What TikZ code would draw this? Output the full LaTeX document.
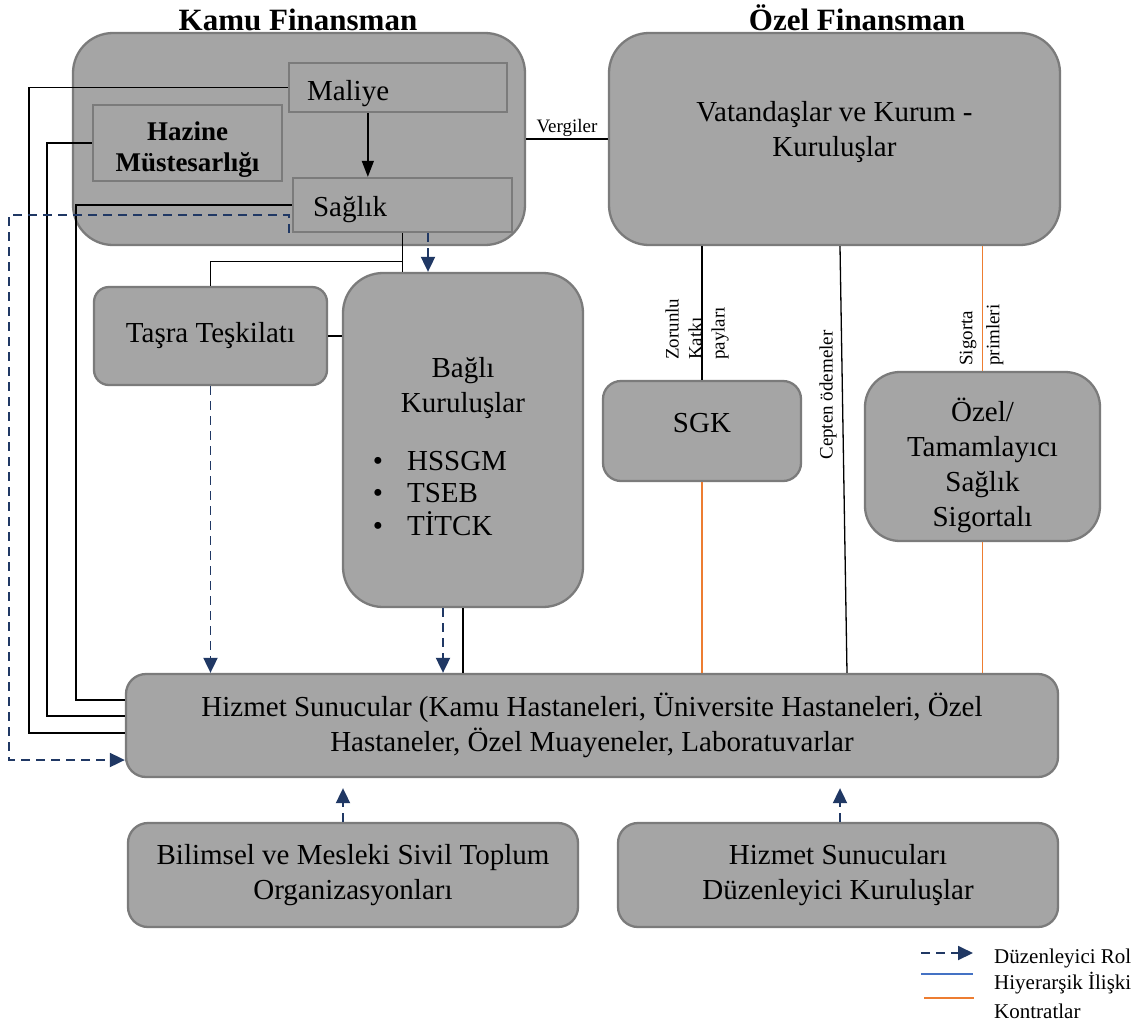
\documentclass[tikz,border=0pt]{standalone}
\usepackage{fontspec}
\setmainfont{Liberation Serif}
\usetikzlibrary{calc,arrows.meta}
\definecolor{boxfill}{HTML}{A5A5A5}
\definecolor{boxline}{HTML}{7B7B7B}
\definecolor{regblue}{HTML}{203864}
\definecolor{hierblue}{HTML}{4472C4}
\definecolor{contract}{HTML}{ED7D31}
\newcommand{\Txt}{\fontsize{29}{35}\selectfont}
\newcommand{\SmallTxt}{\fontsize{19}{21}\selectfont}
\renewcommand{\arraystretch}{0.92}
\tikzset{Panel/.style={
    inner sep=0pt,
    draw=boxline,
    line width=2.3pt,
    fill=boxfill,
    align=center,
    font=\Txt,
    }
}

\begin{document}
\begin{tikzpicture}[x=1pt, y=-1pt,
    Hier/.style={draw=black, line width=1.3pt},
    Reg/.style={draw=regblue, line width=1.9pt, dash pattern=on 9pt off 6pt,
        -{Triangle[length=15pt,width=14pt]}},
    Contract/.style={draw=contract, line width=1.1pt},
    Title/.style={font=\fontsize{31}{35}\selectfont\bfseries, inner sep=0pt},
    Tag/.style={font=\SmallTxt, inner sep=0pt},
    Legend/.style={font=\fontsize{21}{24}\selectfont, inner sep=0pt},
]
\useasboundingbox (0,0) rectangle (1141,1026);

% finansman
\node [Title, anchor=base] (kamuTitle) at (298,30) {Kamu Finansman};
\node [Title, anchor=base] (ozelTitle) at (857,30) {Özel Finansman};
\node [Panel, rounded corners=40pt, minimum width=452pt, minimum height=212pt] (Kamu) at (299,139) {};
\node [Panel, minimum height=49pt, text width=182pt, inner xsep=18pt, align=left,
    text height=25pt, text depth=0pt] (Maliye) at (398,87.5) {Maliye};
\node [Panel, minimum width=189pt, minimum height=76pt, font=\fontsize{27}{31}\selectfont\bfseries] (Hazine) at (187.5,143) {\mbox{}\\Hazine\\Müstesarlığı};
\node [Panel, minimum height=54pt, text width=179pt, inner xsep=20pt, align=left,
    text height=22pt, text depth=0pt] (Saglik) at (402.5,205) {Sağlık};
\node [Panel, rounded corners=40pt, minimum width=451pt, minimum height=212pt] (Vatan) at (834.5,139) {Vatandaşlar ve Kurum -\\Kuruluşlar\\[-15pt]\mbox{}};

% kamu kurumlari
\node [Panel, rounded corners=15pt, minimum width=233pt, minimum height=98pt] (Tasra) at (210.5,336) {Taşra Teşkilatı};
\node [Panel, rounded corners=40pt, minimum width=240pt, minimum height=334pt] (Bagli) at (463,440) {\mbox{}\\[8pt]Bağlı\\Kuruluşlar\\[28pt]\begin{tabular}{@{}l@{\hspace{24pt}}l@{\hspace{46pt}}}
    \textbullet & HSSGM\\
    \textbullet & TSEB\\
    \textbullet & TİTCK
    \end{tabular}};

% sigorta
\node [Panel, rounded corners=18pt, minimum width=198pt, minimum height=100pt,
    text height=2pt, text depth=0pt] (SGK) at (702,431) {SGK};
\node [Panel, rounded corners=35pt, minimum width=235pt, minimum height=169pt] (Ozel) at (982.5,456.5) {\mbox{}\\[6pt]Özel/\\Tamamlayıcı\\Sağlık\\Sigortalı};

% sunucular
\node [Panel, rounded corners=20pt, minimum width=932pt, minimum height=103pt] (Hizmet) at (592,725.5) {Hizmet Sunucular (Kamu Hastaneleri, Üniversite Hastaneleri, Özel\\Hastaneler, Özel Muayeneler, Laboratuvarlar};
\node [Panel, rounded corners=20pt, minimum width=450pt, minimum height=104pt] (Bilim) at (353,875) {Bilimsel ve Mesleki Sivil Toplum\\Organizasyonları};
\node [Panel, rounded corners=20pt, minimum width=440pt, minimum height=104pt] (Duzen) at (838,875) {Hizmet Sunucuları\\Düzenleyici Kuruluşlar};

% hiyerarsi
\draw [Hier, -{Triangle[length=16pt,width=12pt]}] ([xshift=80pt]Maliye.south west) -- ([xshift=76pt]Saglik.north west);
\draw [Hier] (Kamu.east) -- node[Tag, above=2pt] (vergiLbl) {Vergiler} (Vatan.west);
\draw [Hier] (Maliye.west) -- ++(-259,0) |- ([yshift=-7.5pt]Hizmet.west);
\draw [Hier] (Hazine.west) -- ++(-45,0) |- ([yshift=9.5pt]Hizmet.west);
\draw [Hier] (Saglik.west) -- ++(-216,0) |- ([yshift=25.5pt]Hizmet.west);
\draw [Hier] (Saglik.south) -- (Saglik.south |- Bagli.north);
\draw [Hier] (Saglik.south) ++(0,28) -| (Tasra.north);
\draw [Hier] (Tasra.east) -- (Tasra.east -| Bagli.west);
\draw [Hier] (Bagli.south) -- (Bagli.south |- Hizmet.north);

% duzenleyici rol
\draw [Reg] ([xshift=-3pt]Saglik.south west) -- ++(0,-18) -- ++(-280,0) |- ([yshift=-34.5pt]Hizmet.west);
\draw [Reg] ([xshift=25.5pt]Saglik.south) -- ($(Saglik.south |- Bagli.north)+(25.5,0)$);
\draw [Reg] (Tasra.south) -- (Tasra.south |- Hizmet.north);
\draw [Reg] ([xshift=-20pt]Bagli.south) -- ($(Bagli.south |- Hizmet.north)+(-20,0)$);
\draw [Reg, shorten >=10pt] ([xshift=-10pt]Bilim.north) -- ($(Bilim.north |- Hizmet.south)+(-10,0)$);
\draw [Reg, shorten >=10pt] ([xshift=2pt]Duzen.north) -- ($(Duzen.north |- Hizmet.south)+(2,0)$);

% odemeler
\draw [Hier] (SGK.north |- Vatan.south) -- (SGK.north);
\node [Tag, rotate=90, anchor=west, align=left, font=\fontsize{19}{23}\selectfont] (zorunluLbl) at (697,360) {Zorunlu\\Katkı\\payları};
\draw [Hier] ([xshift=5.5pt]Vatan.south) -- ([xshift=255pt]Hizmet.north);
\node [Tag, rotate=90] (ceptenLbl) at (828,395) {Cepten ödemeler};
\draw [Contract] (Ozel.north |- Vatan.south) -- (Ozel.north);
\node [Tag, rotate=90, anchor=west, align=left, font=\fontsize{19}{27}\selectfont] (sigortaLbl) at (981.5,366) {Sigorta\\primleri};

% kontratlar
\draw [Contract] (SGK.south) -- (SGK.south |- Hizmet.north);
\draw [Contract] (Ozel.south) -- (Ozel.south |- Hizmet.north);

% legend
\coordinate (legReg) at (921,953);
\draw [Reg] (legReg) -- ++(52,0);
\node [Legend, anchor=west] (legRegTxt) at (994,958) {Düzenleyici Rol};
\coordinate (legHier) at (921,974);
\draw [hierblue, line width=1.8pt] (legHier) -- ++(52,0);
\node [Legend, anchor=west] (legHierTxt) at (994,983) {Hiyerarşik İlişki};
\coordinate (legCon) at (924,998);
\draw [Contract, line width=1.5pt] (legCon) -- ++(50,0);
\node [Legend, anchor=west] (legConTxt) at (994,1011) {Kontratlar};
\end{tikzpicture}
\end{document}
